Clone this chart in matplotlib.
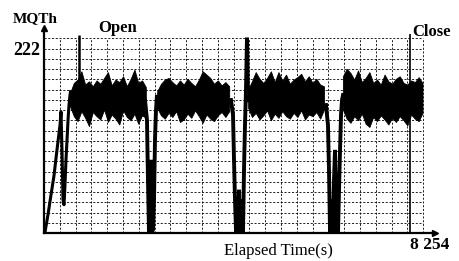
import numpy as np
import matplotlib
matplotlib.use("Agg")
import matplotlib.pyplot as plt
from matplotlib.transforms import ScaledTranslation

plt.rcParams['font.family'] = ['Liberation Serif', 'DejaVu Serif']

# ---- data ----
# elapsed time (s) / MQTh
x_max = 8254
y_tick = 222

# noisy plateau envelope (upper / lower edge of the dense trace), NaN = dip
env_t = [560, 640, 720, 800, 880, 960, 1040, 1120, 1200, 1280, 1360, 1440, 1520, 1600, 1680,
         1760, 1840, 1920, 2000, 2080, 2160, 2240, 2320,
         2400, 2480, 2560, 2640, 2720, 2800, 2880, 2960, 3040, 3120, 3200, 3280, 3360, 3440,
         3520, 3600, 3680, 3760, 3840, 3920, 4000, 4080, 4160, 4240,
         4320, 4400, 4480, 4560, 4640, 4720, 4800, 4880, 4960, 5040, 5120, 5200, 5280, 5360,
         5440, 5520, 5600, 5680, 5760, 5840, 5920, 6000, 6080, 6160, 6240,
         6320, 6400, 6480, 6560, 6640, 6720, 6800, 6880, 6960, 7040, 7120, 7200, 7280, 7360,
         7440, 7520, 7600, 7680, 7760, 7840, 7920, 8000]
nan = float('nan')
env_hi = [168, 180, 184, 194, 178, 182, 176, 183, 179, 186, 193, 177, 184, 181, 188,
          176, 185, 196, 180, 183, 175, nan, nan,
          170, 179, 184, 186, 181, 177, 183, 178, 185, 180, 176, 184, 194, 190,
          186, 179, 183, 177, 181, 176, nan, nan, nan, nan,
          172, 182, 193, 185, 180, 186, 194, 181, 193, 183, 190, 179, 184, 187,
          191, 182, 188, 180, 185, 178, 176, nan, nan, nan, nan,
          188, 197, 192, 184, 195, 181, 186, 193, 180, 184, 178, 190, 182, 179,
          185, 188, 180, 178, 183, 181, 187, 180]
env_lo = [152, 140, 134, 146, 138, 128, 145, 140, 136, 148, 133, 142, 137, 130, 147,
          139, 135, 143, 131, 141, 138, nan, nan,
          150, 141, 137, 144, 139, 146, 133, 136, 143, 138, 147, 140, 132, 142,
          137, 134, 141, 145, 139, 146, nan, nan, nan, nan,
          150, 139, 144, 136, 141, 147, 135, 143, 138, 146, 140, 137, 144, 139,
          147, 136, 142, 140, 145, 137, 148, nan, nan, nan, nan,
          148, 137, 132, 140, 135, 143, 131, 127, 139, 134, 141, 136, 130, 138,
          133, 140, 135, 129, 142, 137, 134, 144]

# start-up ramp
ramp_t = [21, 84, 148, 211, 274, 338, 359, 380, 401, 422, 443, 464, 486, 507, 528, 549, 560]
ramp_v = [1, 22, 46, 69, 100, 130, 146, 100, 40, 34, 58, 88, 112, 136, 154, 166, 170]

# dips
dip1_t = [2132, 2174, 2195, 2216, 2238, 2259, 2280, 2301, 2322, 2343, 2364, 2385, 2406]
dip1_v = [160, 136, 64, 1, 1, 88, 1, 4, 40, 112, 148, 166, 160]
dip2_t = [3948, 3990, 4011, 4032, 4054, 4075, 4096, 4117, 4138, 4159, 4180, 4201, 4222,
          4243, 4264, 4285, 4307, 4328]
dip2_v = [160, 142, 88, 40, 1, 22, 1, 52, 1, 10, 40, 1, 76, 130, 172, 235, 166, 160]
dip3_t = [5953, 5995, 6016, 6038, 6059, 6080, 6101, 6122, 6143, 6164, 6185, 6207, 6228,
          6249, 6270, 6291, 6312]
dip3_v = [154, 130, 76, 1, 40, 1, 1, 64, 100, 40, 1, 1, 52, 100, 142, 160, 166]

# event markers
open_t = 739
close_t = 7726

# ---- figure ----
fig = plt.figure(figsize=(4.6, 2.61), dpi=100)
ax = fig.add_axes([44 / 460, 28 / 261, 391 / 460, 205 / 261])
y_top = 246.7
ax.set_xlim(0, x_max)
ax.set_ylim(0, y_top)

# dashed grid
grid_dx = 333.5
grid_dy = y_tick / 18
gx_end = 24 * grid_dx
gy_end = 19 * grid_dy
gkw = dict(color='black', lw=0.6, linestyles=(0, (2.5, 2)), zorder=1)
ax.hlines([k * grid_dy for k in range(1, 20)], 0, gx_end, **gkw)
ax.vlines([k * grid_dx for k in range(1, 25)], 0, gy_end, **gkw)

# signal
ax.fill_between(env_t, env_lo, env_hi, color='black', lw=0.6, edgecolor='black', zorder=3)
ax.plot(ramp_t, ramp_v, color='black', lw=2.2, zorder=3)
for tt, vv in ((dip1_t, dip1_v), (dip2_t, dip2_v), (dip3_t, dip3_v)):
    ax.plot(tt, vv, color='black', lw=2.8, zorder=3, solid_joinstyle='miter')

# markers
ax.vlines(open_t, 175, 238, color='black', lw=1.8, zorder=4)
ax.vlines(close_t, 0, 240, color='black', lw=1.2, zorder=4)
ax.text(1552, 241.3, 'Open', fontsize=12, fontweight='bold', ha='center', va='baseline',
        clip_on=False)
ax.text(8190, 236.5, 'Close', fontsize=12, fontweight='bold', ha='center', va='baseline',
        clip_on=False)

# axes styling
for s in ('top', 'right'):
    ax.spines[s].set_visible(False)
ax.spines['left'].set_linewidth(1.6)
ax.spines['bottom'].set_linewidth(1.6)
ax.plot(0, 1, marker='^', color='black', ms=4, transform=ax.transAxes, clip_on=False)
ax.plot(1, 0, marker='>', color='black', ms=4, transform=ax.transAxes, clip_on=False)

ax.set_yticks([y_tick], [str(y_tick)])
ax.set_xticks([x_max], ['8 254'])
ax.tick_params(axis='y', length=0, pad=3, labelsize=13)
ax.tick_params(axis='x', length=0, pad=3, labelsize=12.5)
for lbl in ax.get_yticklabels() + ax.get_xticklabels():
    lbl.set_fontweight('bold')
for lbl in ax.get_xticklabels():
    lbl.set_transform(lbl.get_transform() + ScaledTranslation(-0.05, 0, fig.dpi_scale_trans))

ax.set_xlabel('Elapsed Time(s)', fontsize=12)
ax.xaxis.label.set_va('baseline')
ax.xaxis.set_label_coords(0.60, -0.107)
ax.set_ylabel('MQTh', rotation=0, fontsize=11, fontweight='bold')
ax.yaxis.label.set_va('baseline')
ax.yaxis.label.set_ha('center')
ax.yaxis.set_label_coords(-0.023, 1.029)

fig.savefig('out.png', dpi=100)
